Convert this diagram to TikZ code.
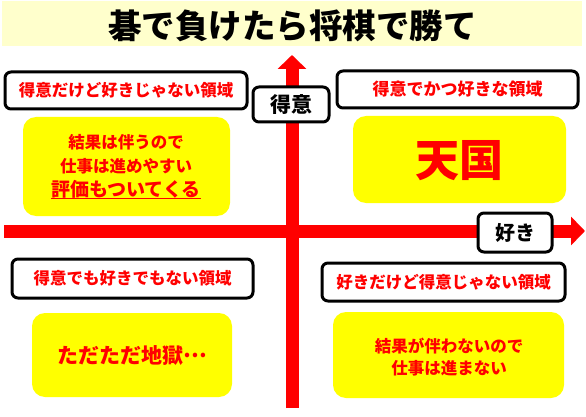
\documentclass[tikz,border=0pt]{standalone}
\usepackage{fontspec}
\setmainfont{Noto Sans CJK JP}
\usetikzlibrary{arrows.meta}
\definecolor{bandyellow}{RGB}{255,255,204}
\definecolor{myred}{RGB}{255,0,0}
\definecolor{myyellow}{RGB}{255,255,0}
\newcommand{\fsz}[1]{\fontsize{#1}{#1}\selectfont\bfseries}
\tikzset{
  axisline/.style={draw=myred, line width=13pt, -{Triangle[width=28pt,length=14pt]}},
  lblbox/.style={draw=black, line width=3pt, fill=white, rounded corners=6pt, inner sep=0pt},
  ybox/.style={fill=myyellow, rounded corners=13pt, inner sep=0pt},
  redtxt/.style={text=myred, inner sep=0pt},
  blktxt/.style={text=black, inner sep=0pt},
}
\begin{document}
\begin{tikzpicture}[x=1pt,y=-1pt]
\useasboundingbox (0,0) rectangle (586,417);
% title band
\fill[bandyellow] (2,1) rectangle (582,46);
\node[blktxt, font=\fsz{33.5}] (title) at (292.5,25.5) {碁で負けたら将棋で勝て};
% axes
\coordinate (ybot) at (292,408);
\coordinate (ytop) at (292,55);
\coordinate (xleft) at (4,231);
\coordinate (xright) at (585,231);
\draw[axisline] (ybot) -- (ytop);
\draw[axisline] (xleft) -- (xright);
% axis labels
\node[lblbox, minimum width=76pt, minimum height=35pt] (tokui) at (291,104.5) {};
\node[blktxt, font=\fsz{21}] (tokuitxt) at (tokui) {得意};
\node[lblbox, minimum width=74pt, minimum height=39pt] (suki) at (515,232.5) {};
\node[blktxt, font=\fsz{20}] (sukitxt) at (suki) {好き};
% top-left
\node[lblbox, minimum width=242pt, minimum height=37pt] (tl) at (126,90.5) {};
\node[redtxt, font=\fsz{16.5}] (tltxt) at (tl) {得意だけど好きじゃない領域};
\node[ybox, minimum width=207pt, minimum height=99pt] (tly) at (126.5,166.5) {};
\node[redtxt, font=\fsz{16.5}] (tly1) at (126,142) {結果は伴うので};
\node[redtxt, font=\fsz{16.5}] (tly2) at (126,166) {仕事は進めやすい};
\node[redtxt, font=\fsz{19}, anchor=base] (tly3) at (126,196) {評価もついてくる};
\draw[myred, line width=1.3pt] ([yshift=-2.5pt]tly3.base west) -- ([yshift=-2.5pt]tly3.base east);
% top-right
\node[lblbox, minimum width=241pt, minimum height=37pt] (tr) at (457.5,89.5) {};
\node[redtxt, font=\fsz{17}] (trtxt) at (tr) {得意でかつ好きな領域};
\node[ybox, minimum width=213pt, minimum height=87pt] (try) at (459.5,159.5) {};
\node[redtxt, font=\fsz{44}] (trytxt) at (459,161) {天国};
% bottom-left
\node[lblbox, minimum width=241pt, minimum height=39pt] (bl) at (132.5,278.5) {};
\node[redtxt, font=\fsz{16.5}] (bltxt) at (bl) {得意でも好きでもない領域};
\node[ybox, minimum width=200pt, minimum height=84pt] (bly) at (132,355) {};
\node[redtxt, font=\fsz{21}] (blytxt) at (132,356) {ただただ地獄\raisebox{0.32em}{…}};
% bottom-right
\node[lblbox, minimum width=243pt, minimum height=38pt] (br) at (443.5,282) {};
\node[redtxt, font=\fsz{16.5}] (brtxt) at (br) {好きだけど得意じゃない領域};
\node[ybox, minimum width=231pt, minimum height=86pt] (bry) at (448.5,355) {};
\node[redtxt, font=\fsz{16.5}] (bry1) at (449,346) {結果が伴わないので};
\node[redtxt, font=\fsz{16.5}] (bry2) at (449,368) {仕事は進まない};
\end{tikzpicture}
\end{document}
